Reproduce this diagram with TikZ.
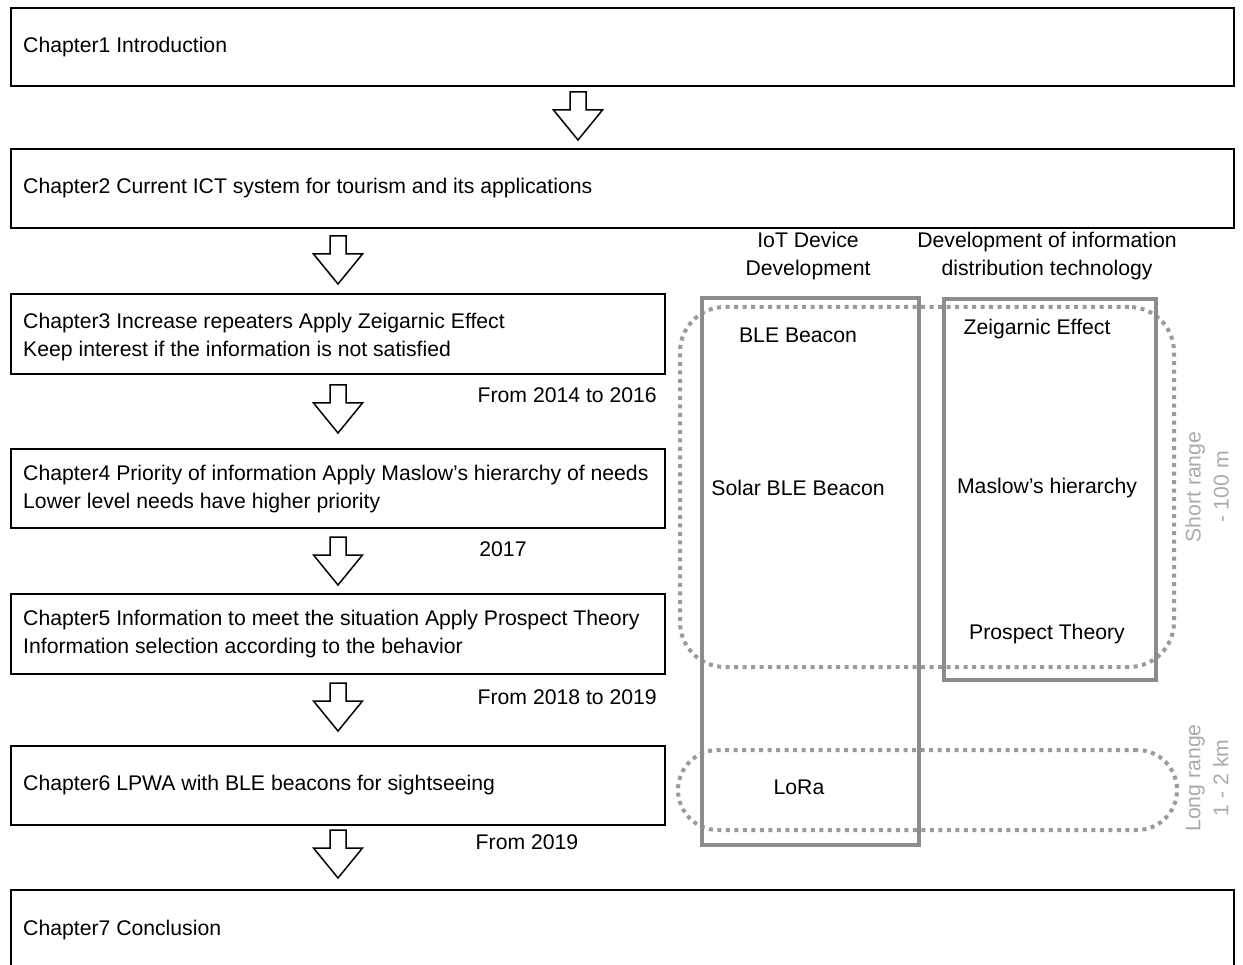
\documentclass[tikz,border=0pt]{standalone}
\usepackage{fontspec}
\setmainfont{Liberation Sans}
\usetikzlibrary{calc}

\definecolor{framegray}{HTML}{8C8C8C}
\definecolor{dotgray}{HTML}{9A9A9A}
\definecolor{rangegray}{HTML}{ABABAB}

\newcommand{\bodyfont}{\fontsize{21.2}{28}\selectfont}

\tikzset{
  chapbox/.style={draw=black, line width=1.6pt, rectangle, inner sep=0pt, anchor=north west},
  chaptext/.style={anchor=west, align=left, inner sep=0pt, font=\bodyfont},
  yeartext/.style={inner sep=0pt, font=\bodyfont},
  coltext/.style={align=center, inner sep=0pt, font=\bodyfont},
  grayframe/.style={draw=framegray, line width=3.6pt, rectangle, inner sep=0pt, anchor=north west},
  rangeloop/.style={draw=dotgray, line width=4pt, dash pattern=on 4pt off 4.5pt, rectangle, inner sep=0pt, anchor=north west},
  rangetext/.style={align=center, inner sep=0pt, rotate=90, text=rangegray, font=\bodyfont},
  pics/downarrow/.style={code={
    \draw[line width=1.5pt, fill=white, line join=miter]
      (-8,0) -- (8,0) -- (8,18) -- (24.5,18) -- (0,48) -- (-24.5,18) -- (-8,18) -- cycle;
  }}
}

\begin{document}
\begin{tikzpicture}[x=1pt, y=-1pt]
\useasboundingbox (0,0) rectangle (1243,965);
\clip (0,0) rectangle (1243,965);
\fill[white] (0,0) rectangle (1243,965);

% chapter boxes
\node[chapbox, minimum width=1223, minimum height=78] (c1) at (10,7) {};
\node[chapbox, minimum width=1223, minimum height=79] (c2) at (10,148) {};
\node[chapbox, minimum width=654, minimum height=80] (c3) at (10,293) {};
\node[chapbox, minimum width=654, minimum height=79] (c4) at (10,448) {};
\node[chapbox, minimum width=654, minimum height=80] (c5) at (10,593) {};
\node[chapbox, minimum width=654, minimum height=79] (c6) at (10,745) {};
\node[chapbox, minimum width=1223, minimum height=120] (c7) at (10,889) {};

\node[chaptext] (t1) at ([xshift=13pt]c1.west) {Chapter1 Introduction};
\node[chaptext] (t2) at ([xshift=13pt]c2.west) {Chapter2 Current ICT system for tourism and its applications};
\node[chaptext] (t3) at (23,337) {Chapter3 Increase repeaters Apply Zeigarnic Effect\\Keep interest if the information is not satisfied};
\node[chaptext] (t4) at (23,489) {Chapter4 Priority of information Apply Maslow’s hierarchy of needs\\Lower level needs have higher priority};
\node[chaptext] (t5) at (23,634) {Chapter5 Information to meet the situation Apply Prospect Theory\\Information selection according to the behavior};
\node[chaptext] (t6) at ([xshift=13pt]c6.west) {Chapter6 LPWA with BLE beacons for sightseeing};
\node[chaptext] (t7) at (23,930) {Chapter7 Conclusion};

% block arrows between chapters
\pic (a1) at (578,92) {downarrow};
\pic (a2) at (338,236) {downarrow};
\pic (a3) at (338,385) {downarrow};
\pic (a4) at (338,537) {downarrow};
\pic (a5) at (338,683) {downarrow};
\pic (a6) at (338,830) {downarrow};

% periods
\node[yeartext, anchor=east] (y1) at (657,395) {From 2014 to 2016};
\node[yeartext] (y2) at (503,549) {2017};
\node[yeartext, anchor=east] (y3) at (657,697) {From 2018 to 2019};
\node[yeartext] (y4) at (527,842) {From 2019};

% column headings
\node[coltext] (h1) at (808,256) {IoT Device\\Development};
\node[coltext] (h2) at (1047,256) {Development of information\\distribution technology};

% communication ranges
\node[rangeloop, rounded corners=45, minimum width=494, minimum height=360] (short) at (678,305) {};
\node[rangeloop, rounded corners=40, minimum width=499, minimum height=80] (long) at (676,748) {};

% columns
\node[grayframe, minimum width=217, minimum height=547] (iot) at (700,296) {};
\node[grayframe, minimum width=212, minimum height=381] (info) at (942,297) {};

\node[coltext] (d1) at (798,335) {BLE Beacon};
\node[coltext] (d2) at (798,488) {Solar BLE Beacon};
\node[coltext] (d3) at (799,787) {LoRa};
\node[coltext] (i1) at (1037,329) {Zeigarnic Effect};
\node[coltext] (i2) at (1047,488) {Maslow’s hierarchy};
\node[coltext] (i3) at (1047,634) {Prospect Theory};

\node[rangetext] (r1) at (1207,487) {Short range\\- 100 m};
\node[rangetext] (r2) at (1207,778) {Long range\\1 - 2 km};
\end{tikzpicture}
\end{document}
